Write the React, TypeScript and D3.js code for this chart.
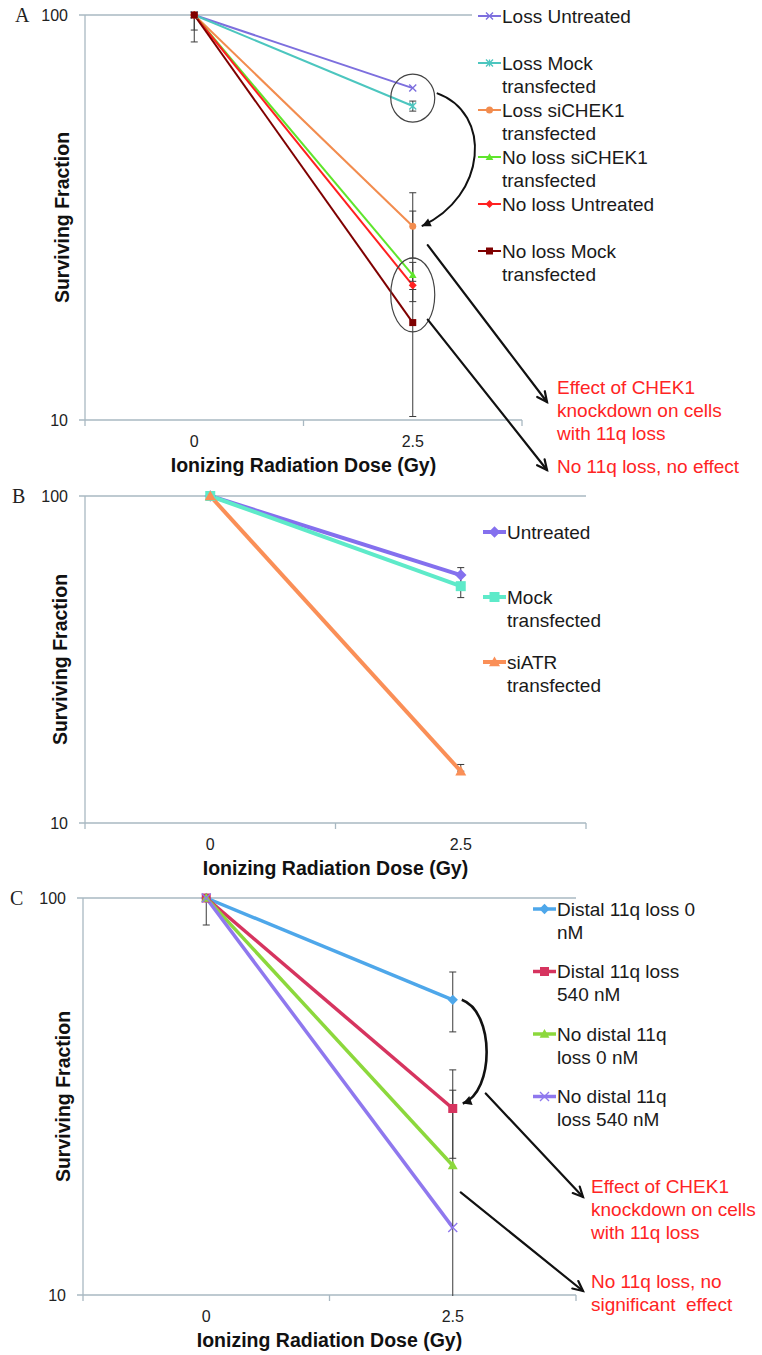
import React from "react";
import * as d3 from "d3";

// ---------- shared ----------
const doses = ["0", "2.5"];
const yTickValues = [10, 100];
const yDomain = [10, 100];
const xTitle = "Ionizing Radiation Dose (Gy)";
const yTitle = "Surviving Fraction";

// ---------- Panel A ----------
const legendA = [
  ["Loss Untreated"],
  ["Loss Mock", "transfected"],
  ["Loss siCHEK1", "transfected"],
  ["No loss siCHEK1", "transfected"],
  ["No loss Untreated"],
  ["No loss Mock", "transfected"],
];
const valuesA = [
  [100, 66.0],
  [100, 59.6],
  [100, 30.1],
  [100, 22.8],
  [100, 21.5],
  [100, 17.4],
];
const errLowA = [
  [100, 66.0],
  [100, 57.9],
  [91.8, 25.1],
  [100, 19.6],
  [100, 21.0],
  [85.8, 10.2],
];
const errHighA = [
  [100, 66.0],
  [100, 61.3],
  [108, 36.4],
  [100, 24.5],
  [100, 22.0],
  [114, 32.8],
];
const markersA = ["times", "asterisk", "circle", "triangle", "diamond", "square"];
const colorsA = ["#7d6fde", "#4cc6bf", "#f28c4e", "#5fe52c", "#ff2020", "#7f0000"];

// ---------- Panel B ----------
const legendB = [["Untreated"], ["Mock", "transfected"], ["siATR", "transfected"]];
const valuesB = [
  [100, 57.3],
  [100, 53.0],
  [100, 14.4],
];
const errLowB = [
  [100, 54.3],
  [100, 48.9],
  [100, 14.4],
];
const errHighB = [
  [100, 60.4],
  [100, 57.0],
  [100, 15.1],
];
const markersB = ["diamond", "square", "triangle"];
const colorsB = ["#8470ee", "#5eeac9", "#fa8f57"];

// ---------- Panel C ----------
const legendC = [
  ["Distal 11q loss 0", "nM"],
  ["Distal 11q loss", "540 nM"],
  ["No distal 11q", "loss 0 nM"],
  ["No distal 11q", "loss 540 nM"],
];
const valuesC = [
  [100, 55.4],
  [100, 29.5],
  [100, 21.2],
  [100, 14.8],
];
const errLowC = [
  [85.5, 46.0],
  [100, 22.1],
  [100, 9.6],
  [100, 14.8],
];
const errHighC = [
  [100, 65.1],
  [100, 36.9],
  [100, 32.8],
  [100, 14.8],
];
const markersC = ["diamond", "square", "triangle", "times"];
const colorsC = ["#4ea7ea", "#d6345f", "#8cd83c", "#8f78ee"];

// ---------- annotations text ----------
const noteEffect = ["Effect of CHEK1", "knockdown on cells", "with 11q loss"];
const noteNoEffectA = ["No 11q loss, no effect"];
const noteNoEffectC = ["No 11q loss, no", "significant  effect"];

const SANS = "'Liberation Sans', Arial, Helvetica, sans-serif";
const SERIF = "'Liberation Serif', 'Times New Roman', serif";
const AXIS_COLOR = "#a9b8c2";
const ERR_COLOR = "#3a3a3a";
const RED = "#ff2424";

function Marker({ type, x, y, size, color }) {
  const s = size / 2;
  switch (type) {
    case "circle":
      return <circle cx={x} cy={y} r={s} fill={color} />;
    case "square":
      return <rect x={x - s} y={y - s} width={size} height={size} fill={color} />;
    case "diamond":
      return (
        <path
          d={`M${x},${y - s * 1.15}L${x + s * 1.15},${y}L${x},${y + s * 1.15}L${x - s * 1.15},${y}Z`}
          fill={color}
        />
      );
    case "triangle":
      return (
        <path d={`M${x},${y - s * 1.1}L${x + s * 1.1},${y + s * 0.85}L${x - s * 1.1},${y + s * 0.85}Z`} fill={color} />
      );
    case "times":
      return (
        <path
          d={`M${x - s},${y - s}L${x + s},${y + s}M${x - s},${y + s}L${x + s},${y - s}`}
          stroke={color}
          strokeWidth={1.4}
          fill="none"
        />
      );
    case "asterisk":
      return (
        <path
          d={`M${x - s},${y - s}L${x + s},${y + s}M${x - s},${y + s}L${x + s},${y - s}M${x},${y - s}L${x},${y + s}`}
          stroke={color}
          strokeWidth={1.3}
          fill="none"
        />
      );
    default:
      return null;
  }
}

function Panel({ cfg }) {
  const { left, right, top, bottom } = cfg;
  const x = d3.scaleBand().domain(doses).range([left, right]).paddingInner(0).paddingOuter(0);
  const y = d3.scaleLog().domain(yDomain).range([bottom, top]);
  const bw = x.bandwidth();
  const cx = (d) => (x(d) as number) + bw / 2;
  const line = d3
    .line<number>()
    .x((_, i) => cx(doses[i]))
    .y((v) => y(v));
  const tickXs = [...doses.map((d) => x(d) as number), right];
  const clipId = `clip-${cfg.id}`;

  return (
    <g>
      <defs>
        <clipPath id={clipId}>
          <rect x={left - 10} y={top} width={right - left + 20} height={bottom - top + 1} />
        </clipPath>
      </defs>
      {/* gridlines & axes */}
      {yTickValues.map((t) => (
        <g key={t}>
          <line x1={left - 6} x2={right} y1={y(t)} y2={y(t)} stroke={AXIS_COLOR} strokeWidth={1.3} />
          <text
            x={left - 17}
            y={y(t)}
            textAnchor="end"
            dominantBaseline="central"
            fontFamily={SANS}
            fontSize={16}
            fill="#222"
          >
            {t}
          </text>
        </g>
      ))}
      <line x1={left} x2={left} y1={top} y2={bottom} stroke={AXIS_COLOR} strokeWidth={1.3} />
      {tickXs.map((tx, i) => (
        <line key={i} x1={tx} x2={tx} y1={bottom} y2={bottom + 6} stroke={AXIS_COLOR} strokeWidth={1.3} />
      ))}
      {doses.map((d) => (
        <text
          key={d}
          x={cx(d)}
          y={bottom + 21}
          textAnchor="middle"
          dominantBaseline="central"
          fontFamily={SANS}
          fontSize={16}
          fill="#222"
        >
          {d}
        </text>
      ))}
      <text
        x={(left + right) / 2}
        y={bottom + 45}
        textAnchor="middle"
        dominantBaseline="central"
        fontFamily={SANS}
        fontWeight="bold"
        fontSize={19.5}
        fill="#111"
      >
        {xTitle}
      </text>
      <text
        transform={`translate(${cfg.yTitleX},${(top + bottom) / 2}) rotate(-90)`}
        textAnchor="middle"
        dominantBaseline="central"
        fontFamily={SANS}
        fontWeight="bold"
        fontSize={19.5}
        fill="#111"
      >
        {yTitle}
      </text>
      <text
        x={cfg.letterX}
        y={top}
        dominantBaseline="central"
        fontFamily={SERIF}
        fontSize={20}
        fill="#222"
      >
        {cfg.letter}
      </text>

      {/* series lines */}
      {cfg.values.map((vals, i) => (
        <path
          key={`l${i}`}
          d={line(vals) as string}
          fill="none"
          stroke={cfg.colors[i]}
          strokeWidth={cfg.lineWidth}
        />
      ))}
      {/* error bars */}
      <g clipPath={`url(#${clipId})`}>
        {cfg.values.map((vals, i) =>
          vals.map((v, j) => {
            const lo = cfg.errLow[i][j];
            const hi = cfg.errHigh[i][j];
            if (hi - lo < 0.01) return null;
            const px = cx(doses[j]);
            const y1 = y(Math.max(lo, 9.5));
            const y2 = y(hi);
            return (
              <g key={`e${i}-${j}`} stroke={ERR_COLOR} strokeWidth={1}>
                <line x1={px} x2={px} y1={y1} y2={y2} />
                <line x1={px - 3.5} x2={px + 3.5} y1={y1} y2={y1} />
                <line x1={px - 3.5} x2={px + 3.5} y1={y2} y2={y2} />
              </g>
            );
          })
        )}
      </g>
      {/* markers */}
      {cfg.values.map((vals, i) =>
        vals.map((v, j) => (
          <Marker
            key={`m${i}-${j}`}
            type={cfg.markers[i]}
            x={cx(doses[j])}
            y={y(v)}
            size={cfg.markerSize}
            color={cfg.colors[i]}
          />
        ))
      )}

      {/* legend */}
      {cfg.legendBg && (
        <rect x={cfg.legendX - 6} y={0} width={762 - cfg.legendX + 6} height={cfg.legendBg} fill="#fff" />
      )}
      {cfg.legend.map((lines, i) => {
        const ly = cfg.legendTop + i * cfg.legendStep;
        return (
          <g key={`lg${i}`}>
            <line
              x1={cfg.legendX}
              x2={cfg.legendX + 23}
              y1={ly}
              y2={ly}
              stroke={cfg.colors[i]}
              strokeWidth={cfg.lineWidth}
            />
            <Marker
              type={cfg.markers[i]}
              x={cfg.legendX + 11.5}
              y={ly}
              size={cfg.markerSize}
              color={cfg.colors[i]}
            />
            {lines.map((t, k) => (
              <text
                key={k}
                x={cfg.legendX + 24}
                y={ly + k * 23}
                dominantBaseline="central"
                fontFamily={SANS}
                fontSize={19}
                fill="#1a1a1a"
              >
                {t}
              </text>
            ))}
          </g>
        );
      })}
      {cfg.annotate && cfg.annotate({ x: cx, y })}
    </g>
  );
}

function openHead(x1, y1, x2, y2, len = 11, ang = 0.45) {
  const a = Math.atan2(y2 - y1, x2 - x1);
  const ax = x2 - len * Math.cos(a - ang);
  const ay = y2 - len * Math.sin(a - ang);
  const bx = x2 - len * Math.cos(a + ang);
  const by = y2 - len * Math.sin(a + ang);
  return `M${ax},${ay}L${x2},${y2}L${bx},${by}`;
}
function filledHead(x1, y1, x2, y2, len = 10, ang = 0.5) {
  const a = Math.atan2(y2 - y1, x2 - x1);
  const ax = x2 - len * Math.cos(a - ang);
  const ay = y2 - len * Math.sin(a - ang);
  const bx = x2 - len * Math.cos(a + ang);
  const by = y2 - len * Math.sin(a + ang);
  return `M${ax},${ay}L${x2},${y2}L${bx},${by}Z`;
}

function Arrow({ x1, y1, x2, y2 }) {
  return (
    <g stroke="#111" strokeWidth={2.2} fill="none" strokeLinecap="round">
      <line x1={x1} y1={y1} x2={x2} y2={y2} />
      <path d={openHead(x1, y1, x2, y2)} />
    </g>
  );
}

function RedNote({ x, y, lines }) {
  return (
    <g>
      {lines.map((t, k) => (
        <text
          key={k}
          x={x}
          y={y + k * 23}
          dominantBaseline="central"
          fontFamily={SANS}
          fontSize={19}
          fill={RED}
          style={{ whiteSpace: "pre" }}
        >
          {t}
        </text>
      ))}
    </g>
  );
}

function annotateA({ x, y }) {
  const px = x("2.5");
  const yTop = (y(valuesA[0][1]) + y(valuesA[1][1])) / 2;
  const yOr = y(valuesA[2][1]);
  const yLow = (y(valuesA[3][1]) + y(valuesA[5][1])) / 2;
  const sx = px + 24, sy = y(valuesA[0][1]) + 5;
  const ex = px + 9, ey = yOr;
  const c1x = px + 80, c1y = sy + 20;
  const c2x = px + 74, c2y = ey - 30;
  return (
    <g>
      <ellipse cx={px} cy={yTop + 1} rx={22} ry={24} fill="none" stroke="#444" strokeWidth={1.2} />
      <ellipse cx={px} cy={yLow - 4} rx={22} ry={37} fill="none" stroke="#444" strokeWidth={1.2} />
      <path d={`M${sx},${sy}C${c1x},${c1y} ${c2x},${c2y} ${ex},${ey}`} fill="none" stroke="#111" strokeWidth={2} />
      <path d={filledHead(c2x, c2y, ex, ey, 10, 0.45)} fill="#111" />
      <Arrow x1={px + 15} y1={yOr + 19} x2={547} y2={402} />
      <Arrow x1={px + 15} y1={y(valuesA[5][1]) - 3} x2={547} y2={470} />
      <RedNote x={557} y={387} lines={noteEffect} />
      <RedNote x={557} y={466} lines={noteNoEffectA} />
    </g>
  );
}

function annotateC({ x, y }) {
  const px = x("2.5");
  const yBlue = y(valuesC[0][1]);
  const ySq = y(valuesC[1][1]);
  const yGreen = y(valuesC[2][1]);
  const sx = px + 9, sy = yBlue;
  const ex = px + 10, ey = ySq - 5;
  const c1x = px + 42, c1y = sy + 12;
  const c2x = px + 42, c2y = ey - 12;
  return (
    <g>
      <path d={`M${sx},${sy}C${c1x},${c1y} ${c2x},${c2y} ${ex},${ey}`} fill="none" stroke="#111" strokeWidth={2.6} />
      <path d={filledHead(c2x, c2y, ex, ey, 10, 0.5)} fill="#111" />
      <Arrow x1={px + 33} y1={ySq - 15} x2={583} y2={1197} />
      <Arrow x1={px + 8} y1={yGreen + 27} x2={583} y2={1291} />
      <RedNote x={591} y={1186} lines={noteEffect} />
      <RedNote x={591} y={1281} lines={noteNoEffectC} />
    </g>
  );
}

const panels = [
  {
    id: "A",
    letter: "A",
    letterX: 15,
    left: 85,
    right: 522,
    top: 15,
    bottom: 420,
    yTitleX: 62,
    legend: legendA,
    values: valuesA,
    errLow: errLowA,
    errHigh: errHighA,
    markers: markersA,
    colors: colorsA,
    lineWidth: 2,
    markerSize: 7,
    legendX: 478,
    legendTop: 16,
    legendStep: 47,
    legendBg: 290,
    annotate: annotateA,
  },
  {
    id: "B",
    letter: "B",
    letterX: 12,
    left: 85,
    right: 586,
    top: 496,
    bottom: 823,
    yTitleX: 60,
    legend: legendB,
    values: valuesB,
    errLow: errLowB,
    errHigh: errHighB,
    markers: markersB,
    colors: colorsB,
    lineWidth: 4,
    markerSize: 10,
    legendX: 483,
    legendTop: 532,
    legendStep: 65,
    legendBg: 0,
    annotate: null,
  },
  {
    id: "C",
    letter: "C",
    letterX: 10,
    left: 83,
    right: 576,
    top: 898,
    bottom: 1295,
    yTitleX: 63,
    legend: legendC,
    values: valuesC,
    errLow: errLowC,
    errHigh: errHighC,
    markers: markersC,
    colors: colorsC,
    lineWidth: 3.5,
    markerSize: 9,
    legendX: 533,
    legendTop: 909,
    legendStep: 62.5,
    legendBg: 0,
    annotate: annotateC,
  },
];

export default function App() {
  return (
    <svg
      width={762}
      height={1355}
      viewBox="0 0 762 1355"
      style={{ position: "absolute", left: 0, top: 0, background: "#fff" }}
    >
      <rect width={762} height={1355} fill="#fff" />
      {panels.map((p) => (
        <Panel key={p.id} cfg={p} />
      ))}
    </svg>
  );
}
